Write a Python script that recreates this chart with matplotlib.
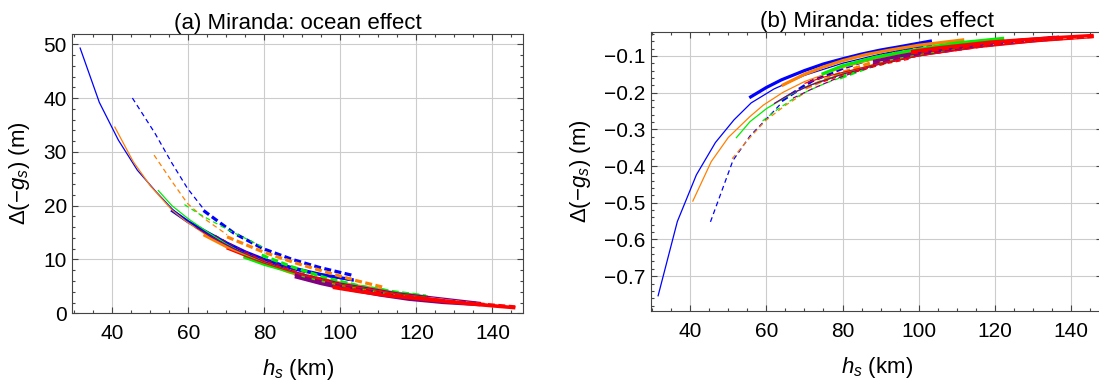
import numpy as np
import matplotlib
matplotlib.use('Agg')
import matplotlib.pyplot as plt
from matplotlib.ticker import MultipleLocator, FuncFormatter

plt.rcParams['font.family'] = ['Liberation Sans', 'DejaVu Sans']
plt.rcParams['mathtext.fontset'] = 'custom'
plt.rcParams['mathtext.rm'] = 'Liberation Sans'
plt.rcParams['mathtext.it'] = 'Liberation Sans:italic'
plt.rcParams['lines.scale_dashes'] = False

# blue
blue_ts_x = [31.5, 36.6, 41.6, 46.6, 51.5, 56, 62, 70, 80, 90, 103.5]
blue_ts_ocean = [49.4, 39.2, 32.2, 26.6, 22.6, 19.2, 15.9, 12.6, 9.6, 7.7, 6.0]
blue_ts_tides = [-0.755, -0.551, -0.424, -0.336, -0.274, -0.228, -0.190, -0.153, -0.120, -0.095, -0.068]
blue_td_x = [45.3, 51.2, 55.7, 59.8, 64]
blue_td_ocean = [40.0, 33.5, 27.9, 23.2, 19.4]
blue_td_tides = [-0.552, -0.385, -0.318, -0.274, -0.228]
blue_Ts_x = [55.5, 60, 64, 70, 75, 80, 85, 90, 95, 103.5]
blue_Ts_ocean = [19.2, 17.0, 15.4, 13.1, 11.4, 10.0, 8.9, 8.0, 7.2, 6.2]
blue_Ts_tides = [-0.214, -0.186, -0.165, -0.140, -0.122, -0.108, -0.095, -0.084, -0.075, -0.059]
blue_Td_x = [64, 72, 79.7, 87.4, 94.6, 103.5]
blue_Td_ocean = [19.1, 14.9, 12.0, 10.0, 8.5, 7.0]
blue_Td_tides = [-0.222, -0.168, -0.135, -0.108, -0.088, -0.070]

# orange
orange_ts_x = [40.6, 45.5, 50, 55.7, 59.2, 64.4, 70, 80, 90, 100, 112]
orange_ts_ocean = [34.7, 28.2, 23.7, 19.2, 17.2, 14.7, 12.6, 9.4, 7.3, 5.8, 4.4]
orange_ts_tides = [-0.497, -0.388, -0.322, -0.265, -0.234, -0.199, -0.170, -0.132, -0.105, -0.085, -0.065]
orange_td_x = [51, 55.7, 59.8, 64.8, 70.2]
orange_td_ocean = [29.4, 24.5, 20.4, 17.3, 14.6]
orange_td_tides = [-0.380, -0.322, -0.276, -0.236, -0.200]
orange_Ts_x = [64, 70, 75, 80, 86, 92, 100, 112]
orange_Ts_ocean = [14.6, 12.4, 10.9, 9.5, 7.8, 6.5, 5.2, 4.2]
orange_Ts_tides = [-0.181, -0.150, -0.130, -0.113, -0.097, -0.085, -0.071, -0.056]
orange_Td_x = [70.2, 79.7, 88, 96, 104, 111.5]
orange_Td_ocean = [14.2, 11.4, 9.4, 7.7, 6.1, 4.8]
orange_Td_tides = [-0.188, -0.146, -0.117, -0.098, -0.083, -0.066]

# green
green_ts_x = [52, 55.7, 60.1, 65.3, 70, 74, 80, 90, 100, 110, 123]
green_ts_ocean = [22.9, 20.0, 17.5, 15.0, 12.9, 11.3, 9.5, 7.2, 5.6, 4.4, 3.2]
green_ts_tides = [-0.324, -0.279, -0.243, -0.211, -0.186, -0.170, -0.148, -0.118, -0.097, -0.080, -0.060]
green_td_x = [59, 63, 66.6, 71, 75.4, 79.3]
green_td_ocean = [20.2, 18.4, 17.0, 15.3, 13.8, 12.4]
green_td_tides = [-0.277, -0.245, -0.220, -0.195, -0.175, -0.160]
green_Ts_x = [74.5, 80, 88.5, 95, 101.6, 110, 122.5]
green_Ts_ocean = [10.5, 9.1, 7.4, 6.1, 5.0, 4.0, 3.0]
green_Ts_tides = [-0.150, -0.127, -0.104, -0.091, -0.079, -0.065, -0.052]
green_Td_x = [79.3, 87.4, 96.5, 105.5, 114, 122.5]
green_Td_ocean = [10.8, 8.6, 6.5, 5.0, 4.0, 3.2]
green_Td_tides = [-0.160, -0.129, -0.104, -0.087, -0.074, -0.058]

# purple
purple_ts_x = [62, 66, 72, 80, 90, 100, 115, 137]
purple_ts_ocean = [16.0, 14.2, 12.0, 9.6, 7.3, 5.6, 3.8, 2.0]
purple_ts_tides = [-0.230, -0.205, -0.178, -0.150, -0.122, -0.100, -0.076, -0.055]
purple_td_x = [67, 72, 78, 84, 88]
purple_td_ocean = [14.5, 12.5, 10.5, 9.0, 8.0]
purple_td_tides = [-0.215, -0.190, -0.163, -0.142, -0.130]
purple_Ts_x = [88, 95, 101, 110.3, 118, 127, 136.8]
purple_Ts_ocean = [6.8, 5.5, 4.6, 3.4, 2.6, 2.0, 1.6]
purple_Ts_tides = [-0.115, -0.100, -0.089, -0.076, -0.066, -0.057, -0.049]
purple_Td_x = [88, 100, 114.6, 125, 136.8]
purple_Td_ocean = [7.2, 5.2, 3.2, 2.4, 1.8]
purple_Td_tides = [-0.123, -0.097, -0.076, -0.062, -0.048]

# red
red_ts_x = [70, 75, 80, 90, 100, 115, 130, 146]
red_ts_ocean = [12.0, 10.6, 9.3, 7.1, 5.4, 3.6, 2.3, 1.2]
red_ts_tides = [-0.175, -0.158, -0.145, -0.120, -0.100, -0.078, -0.062, -0.050]
red_td_x = [75, 80, 86, 92, 98]
red_td_ocean = [11.2, 9.7, 8.2, 7.0, 6.0]
red_td_tides = [-0.170, -0.152, -0.135, -0.120, -0.108]
red_Ts_x = [98, 105, 112, 119, 127, 136, 146]
red_Ts_ocean = [4.8, 4.0, 3.3, 2.8, 2.2, 1.6, 1.0]
red_Ts_tides = [-0.088, -0.078, -0.070, -0.062, -0.056, -0.050, -0.044]
red_Td_x = [98, 108, 118, 130, 146]
red_Td_ocean = [5.0, 3.9, 3.0, 2.1, 1.2]
red_Td_tides = [-0.092, -0.079, -0.068, -0.058, -0.047]

colors = {'blue': '#0000ff', 'orange': '#ff8000', 'green': '#00ee00',
          'purple': '#800080', 'red': '#ff0000'}

curves = [
    ('blue', blue_ts_x, blue_ts_ocean, blue_ts_tides, 'ts'),
    ('blue', blue_td_x, blue_td_ocean, blue_td_tides, 'td'),
    ('blue', blue_Ts_x, blue_Ts_ocean, blue_Ts_tides, 'Ts'),
    ('blue', blue_Td_x, blue_Td_ocean, blue_Td_tides, 'Td'),
    ('orange', orange_ts_x, orange_ts_ocean, orange_ts_tides, 'ts'),
    ('orange', orange_td_x, orange_td_ocean, orange_td_tides, 'td'),
    ('orange', orange_Ts_x, orange_Ts_ocean, orange_Ts_tides, 'Ts'),
    ('orange', orange_Td_x, orange_Td_ocean, orange_Td_tides, 'Td'),
    ('green', green_ts_x, green_ts_ocean, green_ts_tides, 'ts'),
    ('green', green_td_x, green_td_ocean, green_td_tides, 'td'),
    ('green', green_Ts_x, green_Ts_ocean, green_Ts_tides, 'Ts'),
    ('green', green_Td_x, green_Td_ocean, green_Td_tides, 'Td'),
    ('purple', purple_ts_x, purple_ts_ocean, purple_ts_tides, 'ts'),
    ('purple', purple_td_x, purple_td_ocean, purple_td_tides, 'td'),
    ('purple', purple_Ts_x, purple_Ts_ocean, purple_Ts_tides, 'Ts'),
    ('purple', purple_Td_x, purple_Td_ocean, purple_Td_tides, 'Td'),
    ('red', red_ts_x, red_ts_ocean, red_ts_tides, 'ts'),
    ('red', red_td_x, red_td_ocean, red_td_tides, 'td'),
    ('red', red_Ts_x, red_Ts_ocean, red_Ts_tides, 'Ts'),
    ('red', red_Td_x, red_Td_ocean, red_Td_tides, 'Td'),
]

styles = {
    'ts': dict(lw=0.9, ls='-'),
    'td': dict(lw=0.9, ls=(0, (3.5, 2.5))),
    'Ts': dict(lw=2.3, ls='-'),
    'Td': dict(lw=2.3, ls=(0, (5, 2.5))),
}

fig = plt.figure(figsize=(10.99, 3.83), dpi=100)
ax1 = fig.add_axes([0.0658, 0.182, 0.410, 0.7292])
ax2 = fig.add_axes([0.5921, 0.1888, 0.411, 0.7285])

for col, x, yo, yt, st in curves:
    ax1.plot(x, yo, color=colors[col], solid_capstyle='butt', dash_capstyle='butt', **styles[st])
    ax2.plot(x, yt, color=colors[col], solid_capstyle='butt', dash_capstyle='butt', **styles[st])

ax1.set_xlim(29.5, 148.0)
ax1.set_ylim(0, 51.9)
ax2.set_xlim(29.6, 148.3)
ax2.set_ylim(-0.794, -0.034)

ax1.yaxis.set_major_locator(MultipleLocator(10))
ax1.yaxis.set_minor_locator(MultipleLocator(2))
ax2.yaxis.set_major_locator(MultipleLocator(0.1))
ax2.yaxis.set_minor_locator(MultipleLocator(0.02))
ax2.yaxis.set_major_formatter(FuncFormatter(lambda v, p: ('%.1f' % v).replace('-', '\u2212')))

for ax in (ax1, ax2):
    ax.xaxis.set_major_locator(MultipleLocator(20))
    ax.xaxis.set_minor_locator(MultipleLocator(5))
    ax.grid(True, which='major', color='#cccccc', lw=0.8, zorder=0)
    ax.set_axisbelow(True)
    ax.tick_params(which='both', direction='in', top=True, right=True,
                   color='#444444', width=0.8, labelsize=15)
    ax.tick_params(axis='x', which='both', pad=8)
    ax.tick_params(axis='y', which='both', pad=4)
    ax.tick_params(which='major', length=4.5)
    ax.tick_params(which='minor', length=2.5)
    for s in ax.spines.values():
        s.set_color('#444444')
        s.set_linewidth(0.8)
    ax.set_xlabel('$h_s$ (km)', fontsize=16, labelpad=10)
    ax.set_ylabel('Δ(−$g_s$) (m)', fontsize=16, labelpad=8)

ax1.set_title('(a) Miranda: ocean effect', fontsize=16, pad=3)
ax2.set_title('(b) Miranda: tides effect', fontsize=16, pad=3)

fig.savefig('out.png', dpi=100)
